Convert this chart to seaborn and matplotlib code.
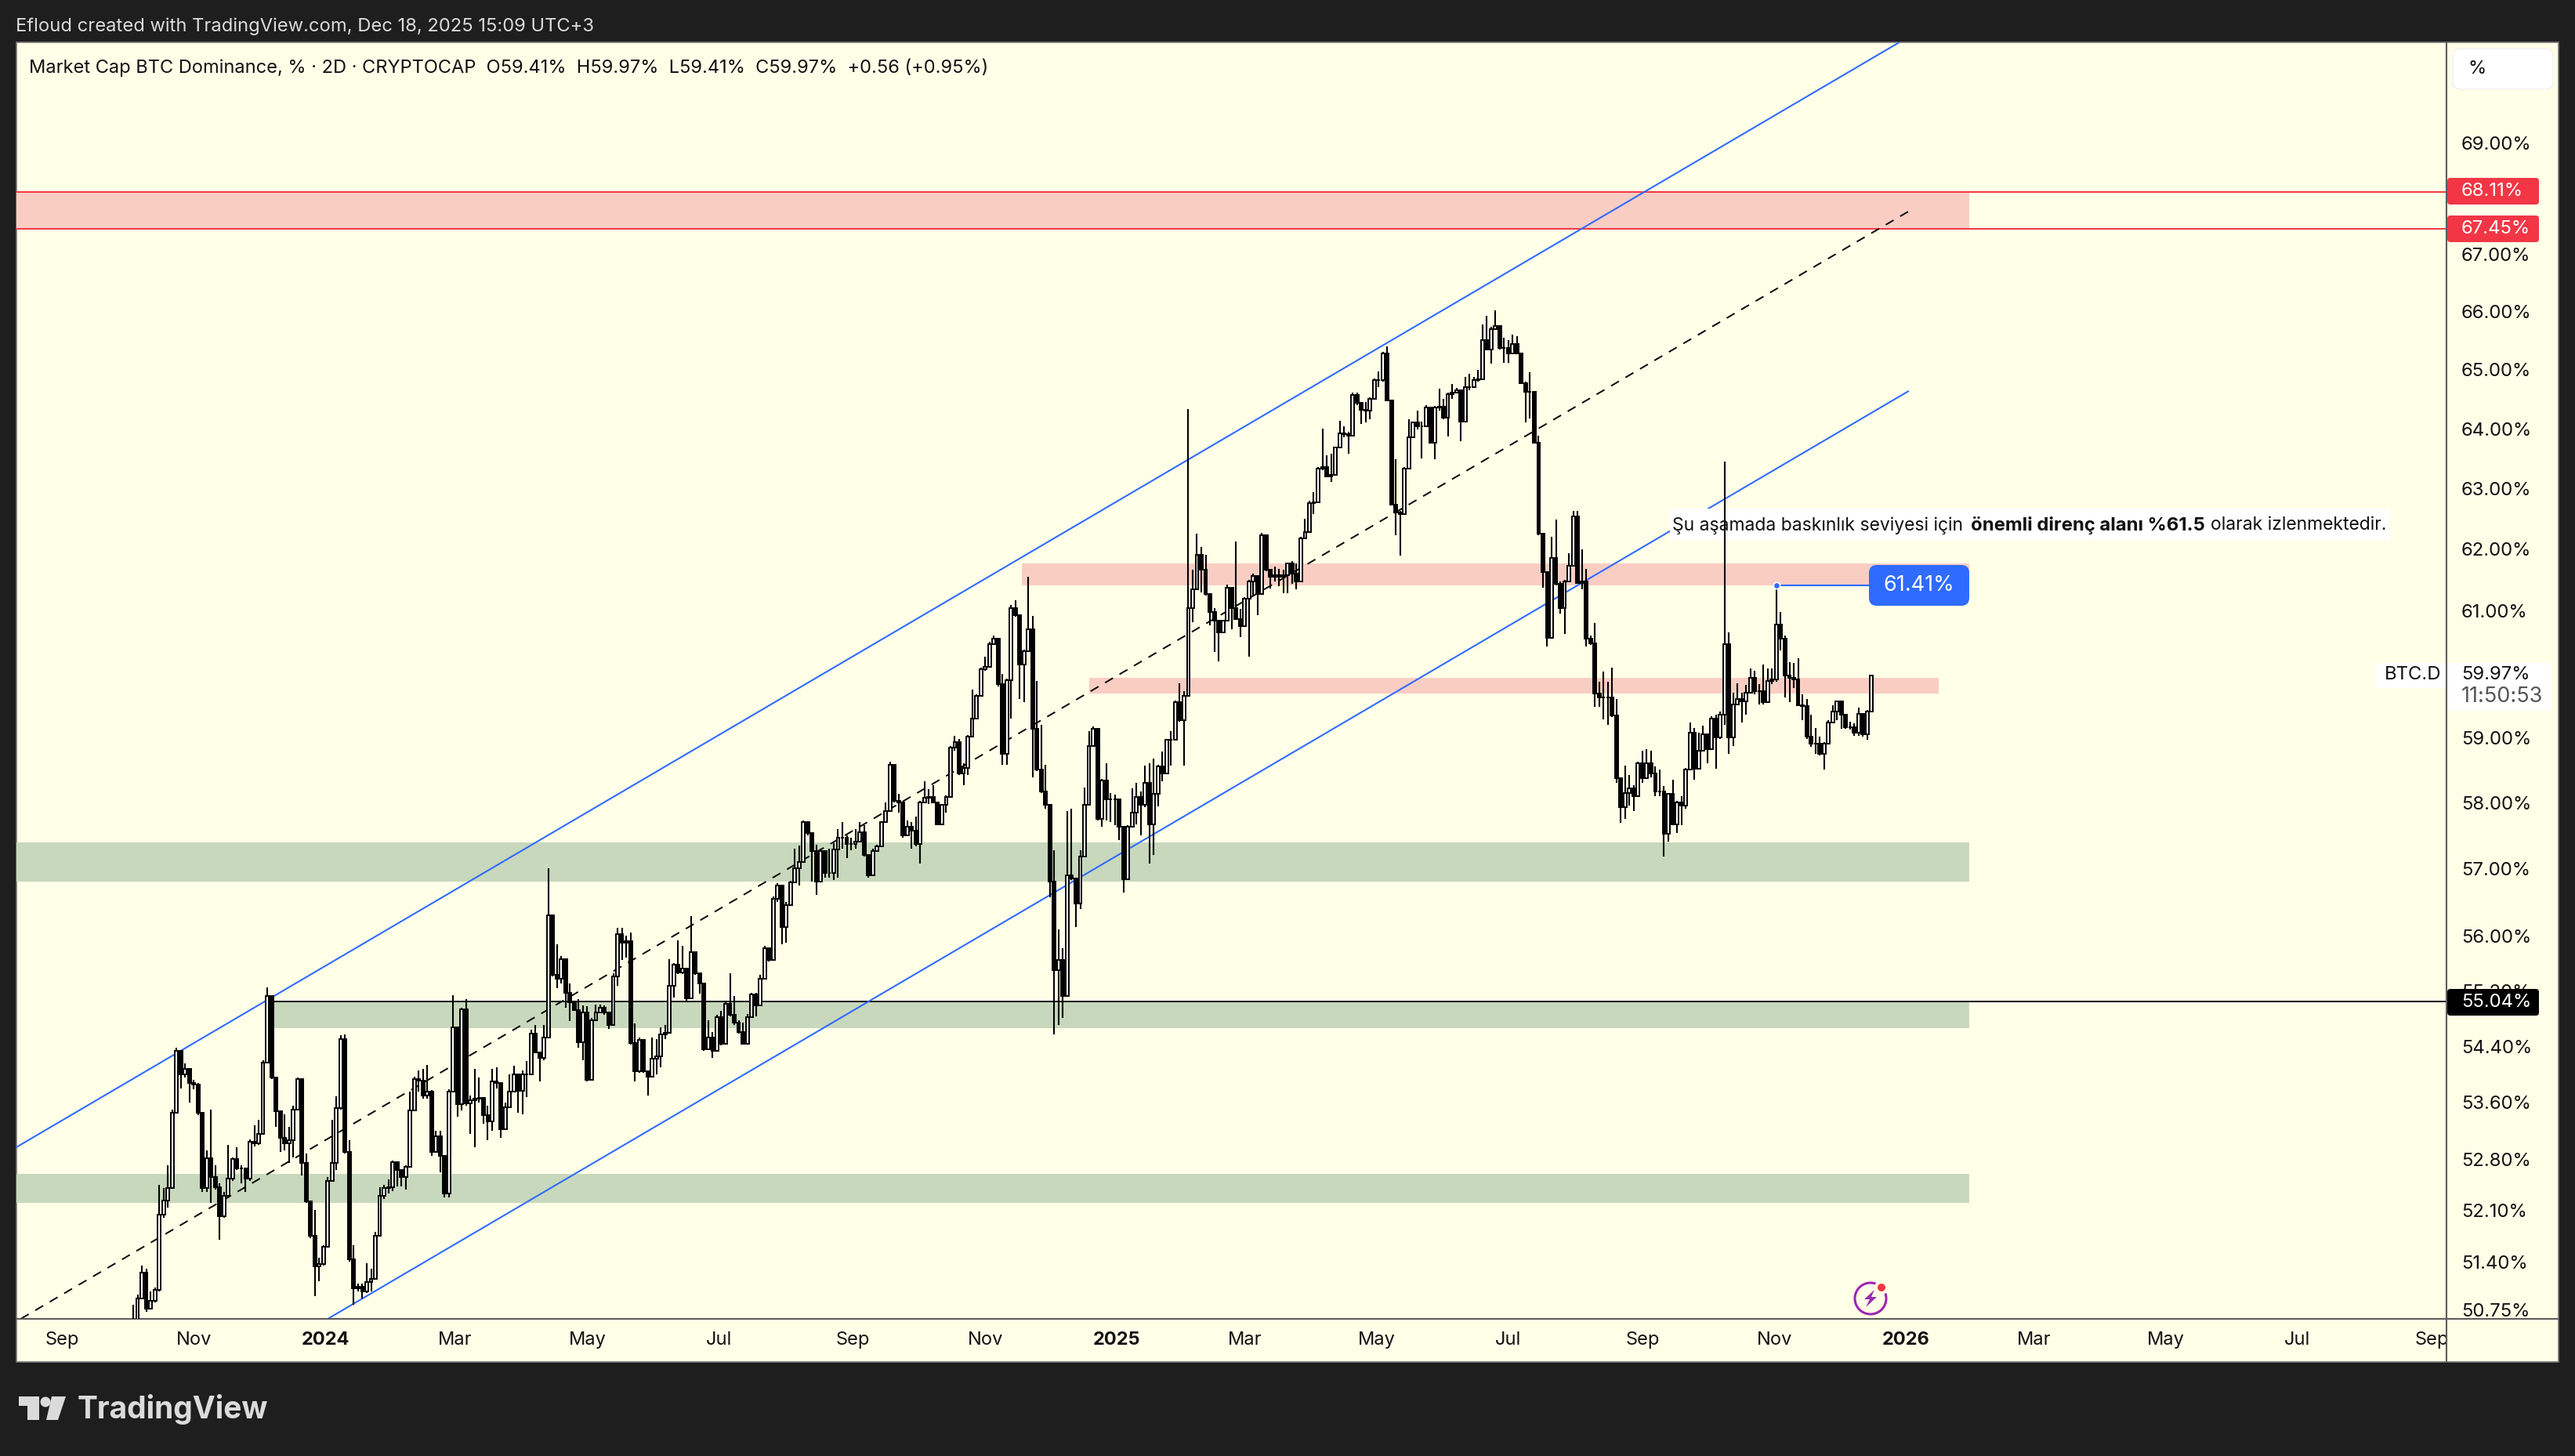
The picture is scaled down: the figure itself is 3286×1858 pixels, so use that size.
import matplotlib
matplotlib.use("Agg")
import matplotlib.pyplot as plt
import matplotlib.dates as mdates
from matplotlib.patches import Rectangle, FancyBboxPatch, Circle, Polygon
from matplotlib.ticker import NullLocator
from matplotlib.transforms import Affine2D
import numpy as np
import pandas as pd
import seaborn as sns

# candle values (2D bars, last one 2025-12-16)
closes = [
    50.60,50.90,51.25,50.77,50.87,51.02,52.04,52.23,52.40,53.45,
    54.33,54.00,54.07,53.87,53.85,53.45,52.40,52.82,52.55,52.42,
    52.02,52.30,52.53,52.81,52.67,52.68,52.53,53.04,53.02,53.16,
    54.16,55.12,53.95,53.47,53.10,53.02,53.07,53.50,53.93,52.75,
    52.22,51.75,51.33,51.37,51.60,52.50,52.75,53.52,54.50,52.90,
    51.43,51.04,51.06,51.00,51.12,51.17,51.75,52.30,52.40,52.41,
    52.76,52.65,52.56,52.70,53.49,53.93,53.91,53.70,53.75,52.90,
    53.12,52.85,52.33,53.75,54.67,53.57,54.93,53.58,53.63,53.65,
    53.66,53.42,53.33,53.90,53.87,53.22,53.53,53.75,53.99,53.76,
    54.00,54.00,54.58,54.31,54.23,54.52,56.30,55.43,55.37,55.66,
    55.16,55.03,54.92,54.45,54.88,53.92,54.77,54.88,54.95,54.88,
    54.70,55.40,56.02,55.90,55.92,54.44,54.04,54.49,54.04,53.96,
    54.22,54.25,54.57,54.59,55.27,55.58,55.46,55.52,55.09,55.76,
    55.45,55.30,54.35,54.52,54.33,54.81,54.43,55.01,54.85,54.74,
    54.60,54.43,54.81,55.14,54.98,55.37,55.82,55.64,56.55,56.75,
    56.13,56.45,56.79,57.00,57.10,57.70,57.53,57.26,56.80,57.26,
    56.93,56.93,57.29,57.47,57.47,57.37,57.37,57.40,57.55,57.20,
    56.90,57.26,57.33,57.70,57.87,58.58,58.02,58.00,57.50,57.63,
    57.57,57.37,58.00,58.07,58.09,58.00,57.67,57.96,58.09,58.84,
    58.93,58.44,58.53,59.02,59.30,59.65,60.07,60.11,60.47,60.55,
    59.83,58.75,59.90,61.05,60.93,60.14,60.35,60.71,59.14,58.50,
    58.17,57.97,56.80,55.50,55.65,55.12,56.90,56.85,56.48,57.18,
    57.96,58.87,59.14,57.75,58.34,58.05,58.05,58.05,57.63,56.84,
    57.63,57.85,58.09,57.97,58.30,57.67,58.13,58.55,58.44,58.96,
    58.96,59.55,59.27,59.65,61.05,61.35,61.91,61.67,61.27,60.98,
    60.84,60.66,60.84,61.37,61.05,60.87,60.76,61.20,61.47,61.56,
    61.27,62.23,61.66,61.55,61.58,61.55,61.58,61.76,61.60,61.47,
    62.18,62.28,62.76,62.77,63.33,63.35,63.20,63.22,63.68,63.92,
    63.90,63.88,64.57,64.43,64.32,64.30,64.50,64.82,64.82,65.28,
    64.48,62.73,62.60,62.58,63.33,63.85,64.10,64.03,64.03,64.35,
    63.76,64.35,64.37,64.18,64.58,64.60,64.64,64.12,64.70,64.70,
    64.82,64.84,65.50,65.35,65.70,65.75,65.37,65.37,65.28,65.44,
    65.28,64.77,64.62,64.62,63.76,62.25,61.62,60.57,61.85,61.43,
    61.05,61.47,61.73,62.53,61.45,61.48,60.55,60.48,59.69,59.63,
    59.63,59.63,59.34,58.37,57.93,58.15,58.22,58.10,58.60,58.37,
    58.60,58.44,58.17,58.17,57.52,58.13,57.67,58.00,57.95,58.50,
    59.07,58.52,58.80,59.05,58.82,59.30,59.00,59.35,60.47,59.00,
    59.52,59.60,59.56,59.70,59.93,59.73,59.72,59.55,59.88,59.91,
    60.78,60.55,59.97,59.94,59.91,59.50,59.49,59.02,58.90,58.90,
    58.75,58.91,59.23,59.40,59.56,59.36,59.16,59.16,59.08,59.37,
    59.05,59.41,59.97,
]
highs = [
    50.82,50.95,51.35,51.30,51.00,51.05,52.45,52.40,52.72,53.50,
    54.38,54.33,54.15,54.07,53.92,53.87,53.45,52.93,53.50,52.72,
    52.47,52.35,53.00,52.83,52.97,52.72,52.63,53.08,53.28,53.35,
    54.20,55.25,55.12,53.95,53.47,53.43,53.25,53.55,53.95,53.82,
    52.88,52.22,52.10,51.45,51.62,52.55,53.35,53.68,54.55,54.56,
    53.07,51.62,51.10,51.10,51.38,51.30,51.80,52.42,52.45,52.52,
    52.78,52.76,52.65,52.72,53.75,53.96,54.05,54.07,54.13,53.77,
    53.20,53.20,52.85,53.78,55.13,54.67,54.95,55.07,53.70,54.07,
    53.95,53.67,53.55,54.07,54.10,53.87,53.60,54.00,54.12,54.00,
    54.05,54.18,54.63,54.70,54.32,54.70,57.00,56.30,55.87,55.70,
    55.67,55.30,55.03,55.08,54.98,54.97,54.80,55.00,55.00,54.98,
    54.88,55.45,56.12,56.12,56.00,56.05,54.72,54.52,54.49,54.04,
    54.52,54.50,54.67,54.70,55.66,55.60,55.93,55.85,55.52,56.29,
    55.76,55.42,55.30,54.77,54.60,54.85,54.90,55.05,55.45,55.12,
    54.77,54.74,54.86,55.17,55.17,55.43,55.85,55.83,56.58,56.78,
    56.75,56.50,56.82,57.30,57.35,57.73,57.70,57.53,57.36,57.30,
    57.27,57.30,57.38,57.60,57.70,57.50,57.47,57.60,57.70,57.65,
    57.20,57.30,57.36,57.72,58.00,58.62,58.58,58.13,58.00,57.73,
    57.70,57.78,58.03,58.33,58.20,58.26,58.00,57.98,58.11,58.87,
    59.03,58.98,58.60,59.04,59.75,59.68,60.10,60.27,60.50,60.60,
    60.55,59.99,59.92,61.10,61.17,60.93,60.38,61.55,60.92,59.88,
    59.20,58.58,57.97,57.27,56.10,55.82,57.87,57.90,56.82,57.27,
    58.23,59.10,59.17,59.14,58.36,58.60,58.15,58.12,58.05,57.63,
    57.65,58.22,58.30,58.17,58.56,58.60,58.67,58.58,58.78,58.98,
    59.10,59.58,59.85,59.72,64.33,61.67,62.25,62.03,61.91,61.27,
    61.05,60.84,60.86,61.42,61.37,62.13,61.03,61.22,61.50,61.60,
    61.48,62.26,62.23,61.68,61.72,61.68,61.66,61.78,61.80,61.76,
    62.20,62.50,62.79,62.94,63.35,64.00,63.55,63.57,63.70,64.13,
    64.03,63.94,64.60,64.60,64.40,64.45,64.52,64.85,64.97,65.30,
    65.40,64.48,63.48,62.62,63.35,64.15,64.12,64.30,64.12,64.40,
    64.35,64.38,64.67,64.50,64.60,64.75,64.68,64.64,64.87,64.93,
    64.87,65.00,65.78,65.93,65.73,66.02,65.75,65.54,65.50,65.60,
    65.57,65.28,64.80,64.95,64.62,63.88,62.25,61.62,62.20,62.48,
    61.47,61.50,61.93,62.63,62.63,62.00,61.68,60.60,60.80,59.87,
    60.03,59.87,60.10,59.60,58.35,58.56,58.42,58.27,58.63,58.80,
    58.82,58.80,58.55,58.50,58.25,58.15,58.35,58.02,58.10,58.53,
    59.23,59.15,59.08,59.18,59.05,59.33,59.35,59.40,63.45,60.65,
    59.70,59.85,59.70,59.82,60.08,60.05,59.83,60.15,60.08,60.08,
    61.41,60.98,60.60,60.18,60.17,60.25,59.67,59.60,59.35,59.15,
    59.02,58.93,59.27,59.50,59.58,59.58,59.36,59.24,59.22,59.46,
    59.38,59.43,59.97,
]
lows = [
    50.50,50.50,50.90,50.72,50.75,50.85,51.00,52.00,52.13,52.40,
    53.45,53.80,53.95,53.60,53.78,53.42,52.35,52.35,52.20,52.38,
    51.70,52.00,52.28,52.50,52.65,52.47,52.35,52.50,52.98,53.00,
    53.15,54.15,53.93,53.25,52.90,52.93,52.75,52.83,53.50,52.58,
    52.20,51.72,50.93,51.13,51.35,51.60,52.50,52.65,53.50,52.88,
    51.40,50.82,51.00,50.90,50.98,51.00,51.17,51.75,52.25,52.33,
    52.36,52.43,52.43,52.38,52.70,53.49,53.75,53.65,53.65,52.85,
    52.90,52.62,52.27,52.27,53.75,53.40,53.48,53.55,53.15,52.97,
    53.60,53.30,53.07,53.20,53.80,53.10,53.22,53.53,53.75,53.45,
    53.43,53.67,54.00,54.30,53.90,54.20,54.52,55.40,55.23,55.30,
    54.95,54.76,54.90,54.38,54.20,53.90,54.05,54.77,54.88,54.85,
    54.65,54.70,55.27,55.65,55.68,54.42,53.90,54.02,54.02,53.70,
    53.96,54.00,54.10,54.50,54.59,55.10,55.44,55.44,55.03,55.09,
    55.43,55.15,54.33,54.45,54.23,54.33,54.41,54.43,54.83,54.70,
    54.58,54.42,54.43,54.80,54.83,55.01,55.37,55.62,55.64,56.50,
    55.88,55.90,56.45,56.78,56.75,57.10,57.50,56.80,56.61,56.80,
    56.86,56.86,56.83,56.86,57.30,57.16,57.28,57.30,57.40,57.18,
    56.86,56.90,57.28,57.33,57.70,57.87,58.00,57.85,57.47,57.50,
    57.30,57.33,57.07,58.00,57.98,58.00,57.65,57.65,57.85,58.09,
    58.80,58.42,58.26,58.42,59.02,59.30,59.65,60.05,60.11,60.47,
    59.80,58.58,58.58,59.30,60.90,59.60,59.55,60.35,58.38,58.48,
    58.15,57.90,56.57,54.57,54.70,54.80,55.12,56.83,56.13,56.40,
    57.18,57.96,58.87,57.73,57.63,57.73,57.70,57.65,57.43,56.64,
    56.84,57.63,57.67,57.50,57.93,57.07,57.20,57.94,58.32,58.44,
    58.57,58.96,59.25,58.57,59.65,60.82,61.35,61.30,61.25,60.77,
    60.34,60.20,60.66,60.84,60.70,60.85,60.58,60.76,60.27,61.24,
    60.93,61.27,61.64,61.36,61.48,61.40,61.28,61.28,61.43,61.35,
    61.47,62.18,62.28,62.57,62.77,63.30,63.18,63.10,63.22,63.68,
    63.85,63.57,63.88,64.40,64.07,64.10,64.15,64.50,64.70,64.80,
    64.46,62.71,62.23,61.90,62.58,63.33,63.87,63.98,63.50,64.03,
    63.74,63.48,64.30,64.16,63.87,64.50,64.60,63.79,64.12,64.65,
    64.68,64.80,64.84,65.33,65.10,65.70,65.35,65.12,65.12,65.27,
    65.26,64.75,64.10,64.17,63.74,62.23,61.37,60.43,60.57,61.41,
    60.95,60.63,61.47,61.73,61.43,61.35,60.43,60.45,59.48,59.48,
    59.28,59.20,59.32,58.30,57.69,57.75,57.95,57.87,58.10,58.30,
    58.38,58.38,58.10,58.10,57.18,57.40,57.65,57.53,57.65,57.90,
    58.50,58.35,58.52,58.80,58.60,58.82,58.52,58.98,59.20,58.75,
    58.87,59.52,59.23,59.35,59.70,59.68,59.52,59.52,59.54,59.84,
    59.87,60.37,59.63,59.55,59.77,59.49,59.27,58.98,58.85,58.75,
    58.72,58.50,58.91,59.23,59.27,59.13,59.13,59.12,59.03,59.03,
    59.02,58.97,59.41,
]
first_open = 50.50
last_candle = "2025-12-16"

price_ticks = [69, 67, 66, 65, 64, 63, 62, 61, 59, 58, 57, 56, 55.2, 54.4, 53.6, 52.8, 52.1, 51.4, 50.75]
date_ticks = ["2023-09-01", "2023-11-01", "2024-01-01", "2024-03-01", "2024-05-01", "2024-07-01",
              "2024-09-01", "2024-11-01", "2025-01-01", "2025-03-01", "2025-05-01", "2025-07-01",
              "2025-09-01", "2025-11-01", "2026-01-01", "2026-03-01", "2026-05-01", "2026-07-01", "2026-09-01"]
date_labels = ["Sep", "Nov", "2024", "Mar", "May", "Jul", "Sep", "Nov", "2025", "Mar", "May", "Jul",
               "Sep", "Nov", "2026", "Mar", "May", "Jul", "Sep"]

# zones: start, end, low, high
red_zone = ["2023-08-11", "2026-01-30", 67.45, 68.11]
pink_zones = [["2024-11-18", "2026-01-30", 61.41, 61.76], ["2024-12-19", "2026-01-16", 59.69, 59.93]]
green_zones = [["2023-08-11", "2026-01-30", 56.80, 57.39],
               ["2023-12-04", "2026-01-30", 54.66, 55.04],
               ["2023-08-11", "2026-01-30", 52.20, 52.60]]
# channel: start date, start value, end date, end value
channel_upper = ["2023-08-11", 52.97, "2025-12-29", 70.85]
channel_lower = ["2024-01-02", 50.63, "2026-01-02", 64.63]
channel_mid = ["2023-08-13", 50.63, "2026-01-02", 67.76]

W, H = 3286, 1858
DARK = "#1e1e1e"
CREAM = "#ffffe8"
BLUE = "#2f6bff"
RED = "#f23645"
PINK = "#facdc3"
GREEN = "#c8d8bc"

sns.set_theme(style="ticks")
plt.rcParams["font.family"] = ["Inter", "DejaVu Sans"]

fig = plt.figure(figsize=((W + 0.3) / 100, (H + 0.3) / 100), dpi=100, facecolor=DARK)
# pixel coordinates, y down, for the chart furniture
px = Affine2D().scale(1, -1).translate(0, H)

fig.add_artist(Rectangle((21, 54), 3244, 1684, transform=px, fc=CREAM, ec="#777777", lw=1.2, zorder=-5))

ax = fig.add_axes([21 / W, 1 - 1683 / H, 3101 / W, 1629 / H])
ax.patch.set_visible(False)
ax.set_yscale("log")


def num(d):
    return mdates.date2num(pd.Timestamp(d))


dates = pd.date_range(end=last_candle, periods=len(closes), freq="2D")
xs = mdates.date2num(dates)
opens = np.array([first_open] + closes[:-1])
c = np.array(closes)

# wicks
wicks = pd.DataFrame({
    "x": np.repeat(xs, 2),
    "price": np.column_stack([lows, highs]).ravel(),
    "candle": np.repeat(np.arange(len(xs)), 2),
})
sns.lineplot(data=wicks, x="x", y="price", units="candle", estimator=None, color="black",
             lw=1.5, legend=False, zorder=4, ax=ax, solid_capstyle="butt")

# bodies
up = c >= opens
bot = np.minimum(c, opens)
top = np.maximum(c, opens)
ax.bar(xs, top - bot, bottom=bot, width=1.4, color=np.where(up, "white", "black"),
       edgecolor="black", linewidth=1.4, zorder=5)

# zones
zx0, zx1, zlo, zhi = red_zone
ax.fill_between([num(zx0), num(zx1)], zlo, zhi, color=PINK, lw=0, zorder=1)
for zx0, zx1, zlo, zhi in pink_zones:
    ax.fill_between([num(zx0), num(zx1)], zlo, zhi, color=PINK, lw=0, zorder=1)
for zx0, zx1, zlo, zhi in green_zones:
    ax.fill_between([num(zx0), num(zx1)], zlo, zhi, color=GREEN, lw=0, zorder=1)

ax.axhline(red_zone[3], color=RED, lw=1.4, zorder=2)
ax.axhline(red_zone[2], color=RED, lw=1.4, zorder=2)
ax.plot([num(green_zones[1][0]), num("2026-09-08")], [55.04, 55.04], color="black", lw=1.4, zorder=2)

# channel
for d0, v0, d1, v1 in [channel_upper, channel_lower]:
    ax.plot([num(d0), num(d1)], [v0, v1], color=BLUE, lw=1.5, zorder=2)
d0, v0, d1, v1 = channel_mid
ax.plot([num(d0), num(d1)], [v0, v1], color="black", lw=1.4, dashes=(6, 5), zorder=2)

ax.set_xlim(num("2023-08-11"), num("2026-09-08"))
ax.set_ylim(50.63, 70.85)
ax.set_xlabel("")
ax.set_ylabel("")

ax.yaxis.tick_right()
ax.yaxis.set_minor_locator(NullLocator())
ax.set_yticks(price_ticks)
ax.set_yticklabels([f"{v:.2f}%" for v in price_ticks])
ax.tick_params(axis="y", length=0, pad=13.5, labelsize=17.2, labelcolor="#111111")
ax.set_xticks([num(d) for d in date_ticks])
ax.set_xticklabels(date_labels)
ax.tick_params(axis="x", length=0, pad=11, labelsize=17, labelcolor="#111111")
for lab in ax.get_xticklabels():
    if lab.get_text().isdigit():
        lab.set_fontweight("bold")

sns.despine(ax=ax, left=True, top=True, right=False, bottom=False)
for side in ["right", "bottom"]:
    ax.spines[side].set_color("#5d5d5d")
    ax.spines[side].set_linewidth(1.5)
fig.add_artist(plt.Line2D([3122, 3122], [1683, 1738], transform=px, color="#5d5d5d", lw=1.5))
fig.add_artist(plt.Line2D([3122, 3265], [1683, 1683], transform=px, color="#5d5d5d", lw=1.5))


def box(x, y, w, h, color, r=6, ec="none", z=8):
    p = FancyBboxPatch((x + r, y + r), w - 2 * r, h - 2 * r, boxstyle=f"round,pad={r},rounding_size={r}",
                       transform=px, fc=color, ec=ec, lw=0.8, zorder=z)
    fig.add_artist(p)


def label(x, y, s, color="#111111", size=17.2, z=9, **kw):
    fig.text(x, y, s, transform=px, color=color, fontsize=size, va="center", zorder=z, **kw)


# header and footer text
label(20, 33, "Efloud created with TradingView.com, Dec 18, 2025 15:09 UTC+3", color="#dbdbdb", size=17.1)
label(37, 86, "Market Cap BTC Dominance, % · 2D · CRYPTOCAP  O59.41%  H59.97%  L59.41%  C59.97%  +0.56 (+0.95%)", size=17)
label(99, 1798, "TradingView", color="#dbdbdb", size=28, fontweight="bold")

# logo
fig.add_artist(Polygon([(24, 1782), (50, 1782), (50, 1812), (35, 1812), (35, 1794), (24, 1794)], transform=px, fc="#dbdbdb", ec="none"))
fig.add_artist(Circle((58, 1789), 6.5, transform=px, fc="#dbdbdb", ec="none"))
fig.add_artist(Polygon([(66, 1782), (84, 1782), (74, 1812), (59, 1812)], transform=px, fc="#dbdbdb", ec="none"))

# price scale labels
box(3130, 62, 128, 52, "white", r=10, ec="#eeeeee")
label(3149, 88, "%")
box(3123, 227, 117, 34, RED, r=4)
label(3141, 244, "68.11%", color="white")
box(3123, 275, 117, 34, RED, r=4)
label(3141, 292, "67.45%", color="white")
box(3123, 1262, 117, 34, "black", r=4)
label(3141, 1279, "55.04%", color="white")
box(3124, 846, 132, 61, "white", r=3)
label(3141, 861, "59.97%")
label(3141, 889, "11:50:53", color="#555555", size=19.5)
box(3032, 846, 89, 32, "white", r=3)
label(3043, 861, "BTC.D")

# note box sits under the candles
ax.add_patch(Rectangle((2131, 649), 919, 41, transform=px, fc="white", ec="none", zorder=3, clip_on=False))
label(2134, 670, "Şu aşamada baskınlık seviyesi için", size=16.5)
label(2515, 670, "önemli direnç alanı %61.5", size=17.2, fontweight="bold")
label(2821, 670, "olarak izlenmektedir.", size=16.5)

# price note on the last swing high
note_x = xs[380]
ax.plot([note_x, num("2026-01-01")], [61.41, 61.41], color=BLUE, lw=1.5, zorder=6)
ax.plot([note_x], [61.41], "o", ms=6, mfc=BLUE, mec="white", mew=1.2, zorder=7)
box(2385, 721, 128, 52, BLUE, r=10)
label(2449, 747, "61.41%", color="white", ha="center", size=19.5)

# lightning icon
fig.add_artist(Circle((2387, 1657), 20, transform=px, fc="none", ec="#9c27b0", lw=2.2))
fig.add_artist(Circle((2401, 1643), 9, transform=px, fc=CREAM, ec="none"))
fig.add_artist(Circle((2401, 1643), 5, transform=px, fc=RED, ec="none"))
fig.add_artist(Polygon([(2392, 1646), (2379, 1658), (2386, 1658), (2381, 1668), (2395, 1655), (2388, 1655)],
                       transform=px, fc="#9c27b0", ec="none"))

fig.savefig("out.png", dpi=100, facecolor=DARK)
